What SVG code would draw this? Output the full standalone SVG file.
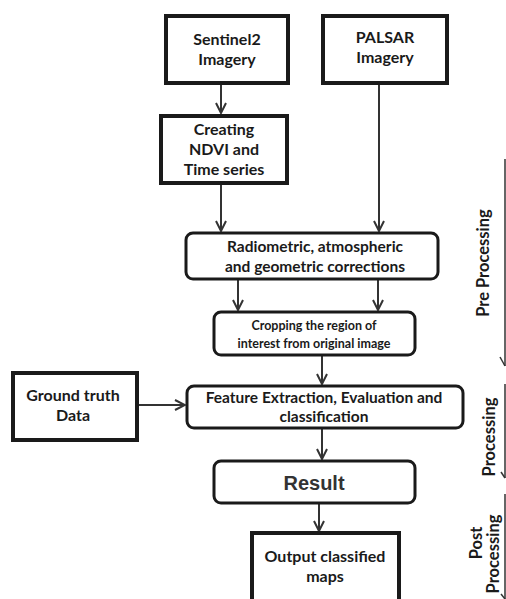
<svg xmlns="http://www.w3.org/2000/svg" width="506" height="599" viewBox="0 0 506 599">
<style>
text{font-family:Lato,"Open Sans","Liberation Sans",sans-serif;font-weight:bold;fill:#1a1a1a;text-anchor:middle}
.sq{fill:#fff;stroke:#1a1a1a;stroke-width:4}
.rd{fill:#fff;stroke:#1a1a1a;stroke-width:3}
.c{fill:none;stroke:#333;stroke-width:2}
.t16{font-size:16px}
.t15{font-size:15.5px}
.t12{font-size:12.5px}
.side{font-size:16.5px}
.sl{stroke:#333;stroke-width:1.5}
</style>
<defs>
<marker id="ah" viewBox="0 0 12 12" refX="11" refY="6" markerWidth="12" markerHeight="12" markerUnits="userSpaceOnUse" orient="auto">
<path d="M1,1 L11,6 L1,11" fill="none" stroke="#333" stroke-width="2"/>
</marker>
</defs>
<rect width="506" height="599" fill="#fff"/>
<g id="connectors">
<line class="c" x1="221" y1="84" x2="221" y2="113" marker-end="url(#ah)"/>
<line class="c" x1="221" y1="184" x2="221" y2="231" marker-end="url(#ah)"/>
<line class="c" x1="379" y1="84" x2="379" y2="231" marker-end="url(#ah)"/>
<line class="c" x1="238" y1="280" x2="238" y2="310" marker-end="url(#ah)"/>
<line class="c" x1="378" y1="280" x2="378" y2="310" marker-end="url(#ah)"/>
<line class="c" x1="322" y1="356" x2="322" y2="384" marker-end="url(#ah)"/>
<line class="c" x1="139" y1="405" x2="185" y2="405" marker-end="url(#ah)"/>
<line class="c" x1="322" y1="429" x2="322" y2="459" marker-end="url(#ah)"/>
<line class="c" x1="319" y1="504" x2="319" y2="531" marker-end="url(#ah)"/>
</g>
<g id="sentinel2">
<rect class="sq" x="166" y="16" width="122" height="67"/>
<text class="t16" x="227" y="45">Sentinel2</text>
<text class="t16" x="227" y="65">Imagery</text>
</g>
<g id="palsar">
<rect class="sq" x="323" y="16" width="124" height="67"/>
<text class="t16" x="385" y="43">PALSAR</text>
<text class="t16" x="385" y="63">Imagery</text>
</g>
<g id="ndvi">
<rect class="sq" x="161" y="116" width="126" height="67"/>
<text class="t16" x="224" y="135">Creating</text>
<text class="t16" x="224" y="155">NDVI and</text>
<text class="t16" x="224" y="175">Time series</text>
</g>
<g id="corrections">
<rect class="rd" x="186" y="233" width="252" height="46" rx="7"/>
<text class="t15" x="315" y="252">Radiometric, atmospheric</text>
<text class="t15" x="315" y="272">and geometric corrections</text>
</g>
<g id="cropping">
<rect class="rd" x="214" y="312" width="201" height="43" rx="7"/>
<text class="t12" x="314" y="330">Cropping the region of</text>
<text class="t12" x="314" y="348">interest from original image</text>
</g>
<g id="groundtruth">
<rect class="sq" x="13" y="373" width="124" height="67" stroke-width="5"/>
<text class="t16" x="73" y="401">Ground truth</text>
<text class="t16" x="73" y="421">Data</text>
</g>
<g id="feature">
<rect class="rd" x="187" y="386" width="276" height="42" rx="7"/>
<text class="t15" x="324" y="403">Feature Extraction, Evaluation and</text>
<text class="t15" x="324" y="422">classification</text>
</g>
<g id="result">
<rect class="rd" x="214" y="461" width="201" height="42" rx="7"/>
<text x="314" y="490" style="font-family:'Liberation Sans',Arial,sans-serif;font-size:20px;fill:#333">Result</text>
</g>
<g id="output">
<rect class="sq" x="252" y="533" width="147" height="70" stroke-width="5"/>
<text class="t16" x="325" y="562">Output classified</text>
<text class="t16" x="325" y="582">maps</text>
</g>
<g id="stages">
<line class="sl" x1="505" y1="159" x2="505" y2="366"/>
<line class="sl" x1="500" y1="357" x2="505" y2="366"/>
<text class="side" transform="translate(489,263) rotate(-90)">Pre Processing</text>
<line class="sl" x1="505" y1="384" x2="505" y2="478"/>
<line class="sl" x1="501" y1="472" x2="505" y2="478"/>
<text class="side" transform="translate(495,437) rotate(-90)">Processing</text>
<line class="sl" x1="505" y1="494" x2="505" y2="599"/>
<line class="sl" x1="501" y1="594" x2="505" y2="599"/>
<text class="side" transform="translate(482,543) rotate(-90)">Post</text>
<text class="side" transform="translate(499,554) rotate(-90)">Processing</text>
</g>
</svg>
